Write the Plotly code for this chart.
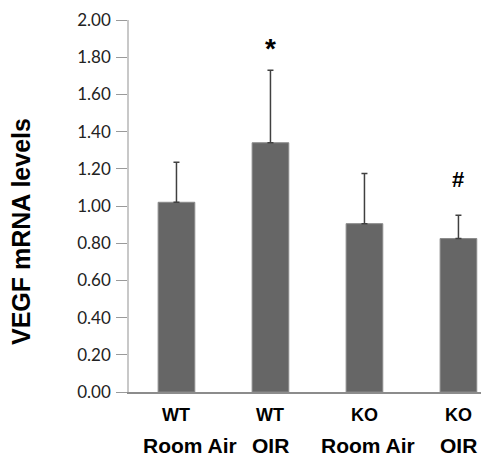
import plotly.graph_objects as go

categories = ["WT Room Air", "WT OIR", "KO Room Air", "KO OIR"]
genotype = ["WT", "WT", "KO", "KO"]
condition = ["Room Air", "OIR", "Room Air", "OIR"]
values = [1.02, 1.34, 0.905, 0.825]
errors = [0.215, 0.39, 0.27, 0.125]
marks = ["", "*", "", "#"]
y_ticks = [0.0, 0.2, 0.4, 0.6, 0.8, 1.0, 1.2, 1.4, 1.6, 1.8, 2.0]

xs = list(range(len(categories)))
cond_shift = [14, 0, 4, 0]

fig = go.Figure()
fig.add_trace(go.Bar(
    x=xs, y=values, width=0.39,
    marker=dict(color="#666666", line=dict(color="#8a8a8a", width=1)),
    error_y=dict(type="data", array=errors, arrayminus=[0]*len(errors), symmetric=False,
                 color="#404040", thickness=1.5, width=3),
))

ann = []
for i in xs:
    ann.append(dict(x=i, y=-0.062, xref="x", yref="paper", text="<b>%s</b>" % genotype[i],
                    showarrow=False, yanchor="middle", borderpad=0,
                    font=dict(family="Arial", size=18, color="#000")))
    ann.append(dict(x=i, y=-0.143, xref="x", yref="paper", text="<b>%s</b>" % condition[i],
                    showarrow=False, yanchor="middle", xshift=cond_shift[i], borderpad=0,
                    font=dict(family="Arial", size=21, color="#000")))
    if marks[i]:
        ann.append(dict(x=i, y=values[i] + errors[i], xref="x", yref="y", text="<b>%s</b>" % marks[i],
                        showarrow=False, yanchor="bottom", yshift=(4 if marks[i] == "*" else 21),
                        font=dict(family="Arial", size=(28 if marks[i] == "*" else 22), color="#000")))
ann.append(dict(x=-0.3, y=0.43, xref="paper", yref="paper", text="<b>VEGF mRNA levels</b>",
                textangle=-90, showarrow=False, xanchor="center", yanchor="middle",
                font=dict(family="Arial", size=25, color="#000")))

fig.update_layout(
    width=481, height=448,
    margin=dict(l=121, r=0, t=12, b=64),
    paper_bgcolor="white", plot_bgcolor="white",
    showlegend=False,
    annotations=ann,
    xaxis=dict(range=[-0.505, 3.325], showticklabels=False, ticks="", showgrid=False,
               zeroline=False, showline=True, linecolor="#8c8c8c", linewidth=1.5),
    yaxis=dict(range=[0, 2.0], tickvals=y_ticks, ticktext=["%.2f" % v for v in y_ticks],
               ticks="outside", ticklen=11, tickcolor="#9a9a9a", tickwidth=1,
               showgrid=False, zeroline=False, showline=True, linecolor="#c8c8c8", linewidth=1.5,
               tickfont=dict(family="Lato", size=17, color="#222"), ticklabelstandoff=2),
)

fig.write_html("out.html")
